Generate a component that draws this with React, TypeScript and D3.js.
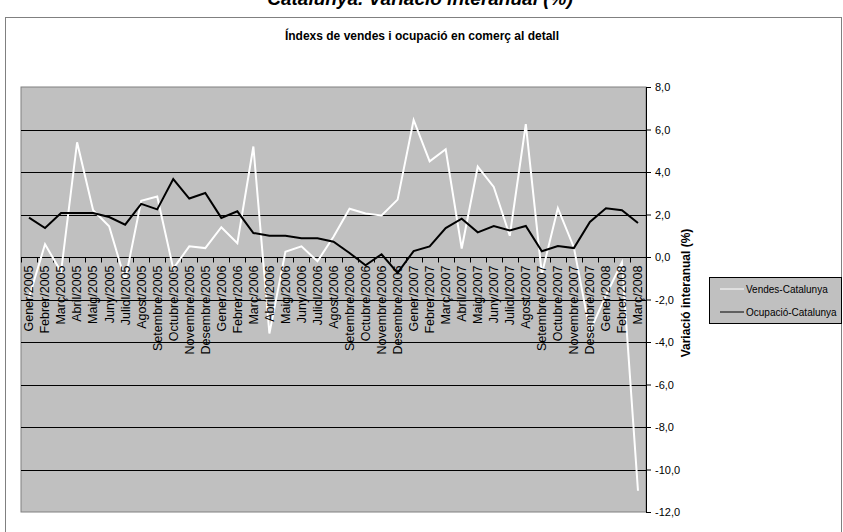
import React, { useEffect, useRef } from 'react'
import * as d3 from 'd3'

const categories = [
    'Gener/2005', 'Febrer/2005', 'Març/2005', 'Abril/2005', 'Maig/2005', 'Juny/2005',
    'Juliol/2005', 'Agost/2005', 'Setembre/2005', 'Octubre/2005', 'Novembre/2005', 'Desembre/2005',
    'Gener/2006', 'Febrer/2006', 'Març/2006', 'Abril/2006', 'Maig/2006', 'Juny/2006',
    'Juliol/2006', 'Agost/2006', 'Setembre/2006', 'Octubre/2006', 'Novembre/2006', 'Desembre/2006',
    'Gener/2007', 'Febrer/2007', 'Març/2007', 'Abril/2007', 'Maig/2007', 'Juny/2007',
    'Juliol/2007', 'Agost/2007', 'Setembre/2007', 'Octubre/2007', 'Novembre/2007', 'Desembre/2007',
    'Gener/2008', 'Febrer/2008', 'Març/2008'
]

const vendes = [
    -1.9, 0.6, -0.7, 5.4, 2.2, 1.45, -1.1, 2.65, 2.85, -0.55, 0.5, 0.42,
    1.4, 0.65, 5.2, -3.6, 0.25, 0.5, -0.2, 0.95, 2.27, 2.05, 1.95, 2.7,
    6.45, 4.5, 5.07, 0.4, 4.25, 3.3, 1.0, 6.25, -0.8, 2.3, 0.45, -3.5,
    -1.8, -0.25, -11.0
]

const ocupacio = [
    1.85, 1.36, 2.07, 2.07, 2.07, 1.88, 1.52, 2.5, 2.24, 3.67, 2.75, 3.01,
    1.84, 2.15, 1.13, 1.0, 1.0, 0.88, 0.88, 0.72, 0.19, -0.39, 0.13, -0.75,
    0.28, 0.5, 1.36, 1.8, 1.16, 1.46, 1.25, 1.46, 0.27, 0.52, 0.42, 1.65,
    2.29, 2.2, 1.6
]

const yTicks = [8, 6, 4, 2, 0, -2, -4, -6, -8, -10, -12]
const seriesNames = ['Vendes-Catalunya', 'Ocupació-Catalunya']

const font = "Arial, 'Liberation Sans', sans-serif"

export default function App() {
    const ref = useRef<SVGSVGElement | null>(null)

    const width = 843
    const height = 532
    const plot = { left: 21, right: 646, top: 87, bottom: 512 }

    function drawChart() {
        const svg = d3.select(ref.current)
        svg.selectAll('*').remove()

        // chart area
        svg.append('rect')
            .attr('x', 5.5).attr('y', 17.5)
            .attr('width', 836).attr('height', 540)
            .attr('fill', 'white').attr('stroke', '#808080')

        svg.append('text')
            .attr('x', 420).attr('y', 5)
            .attr('text-anchor', 'middle')
            .style('font-family', font)
            .style('font-size', '19px')
            .style('font-weight', 'bold')
            .style('font-style', 'italic')
            .text('Catalunya. Variació interanual (%)')

        svg.append('text')
            .attr('x', 422).attr('y', 40)
            .attr('text-anchor', 'middle')
            .style('font-family', font)
            .style('font-size', '12px')
            .style('font-weight', 'bold')
            .text('Índexs de vendes i ocupació en comerç al detall')

        const x = d3.scaleBand<string>()
            .domain(categories)
            .range([plot.left, plot.right])
        const y = d3.scaleLinear()
            .domain([-12, 8])
            .range([plot.bottom, plot.top])
        const cx = (d: string) => (x(d) as number) + x.bandwidth() / 2

        // plot area
        svg.append('rect')
            .attr('x', plot.left).attr('y', plot.top)
            .attr('width', plot.right - plot.left).attr('height', plot.bottom - plot.top)
            .attr('fill', '#C0C0C0').attr('stroke', '#808080')

        // gridlines
        svg.append('g')
            .selectAll('line')
            .data(yTicks.filter(t => t !== 8 && t !== -12))
            .enter().append('line')
            .attr('x1', plot.left).attr('x2', plot.right)
            .attr('y1', d => Math.round(y(d)) + 0.5).attr('y2', d => Math.round(y(d)) + 0.5)
            .attr('stroke', 'black')

        // y axis on the right
        const yAxis = d3.axisRight(y)
            .tickValues(yTicks)
            .tickSize(5)
            .tickFormat((d: any) => d.toFixed(1).replace('.', ','))
        const gy = svg.append('g')
            .attr('transform', 'translate(' + plot.right + ',0)')
            .call(yAxis)
        gy.select('.domain').attr('stroke', 'black')
        gy.selectAll('.tick line').attr('stroke', 'black')
        gy.selectAll('.tick text')
            .attr('x', 9)
            .style('font-family', font)
            .style('font-size', '11px')
            .attr('fill', 'black')

        svg.append('text')
            .attr('transform', 'translate(690,293) rotate(-90)')
            .attr('text-anchor', 'middle')
            .style('font-family', font)
            .style('font-size', '12px')
            .style('font-weight', 'bold')
            .text('Variació interanual (%)')

        // category axis at zero
        const y0 = Math.round(y(0)) + 0.5
        svg.append('line')
            .attr('x1', plot.left).attr('x2', plot.right)
            .attr('y1', y0).attr('y2', y0)
            .attr('stroke', 'black')
        svg.append('g')
            .selectAll('line')
            .data(categories)
            .enter().append('line')
            .attr('x1', d => Math.round(x(d) as number) + 0.5)
            .attr('x2', d => Math.round(x(d) as number) + 0.5)
            .attr('y1', y0).attr('y2', y0 + 5)
            .attr('stroke', 'black')

        // series lines
        const line = d3.line<number>()
            .x((d, i) => cx(categories[i]))
            .y(d => y(d))
        svg.append('path')
            .datum(vendes)
            .attr('d', line)
            .attr('fill', 'none')
            .attr('stroke', 'white')
            .attr('stroke-width', 2)
        svg.append('path')
            .datum(ocupacio)
            .attr('d', line)
            .attr('fill', 'none')
            .attr('stroke', 'black')
            .attr('stroke-width', 2)

        svg.append('g')
            .selectAll('text')
            .data(categories)
            .enter().append('text')
            .attr('transform', d => 'translate(' + cx(d) + ',' + (y0 + 8) + ') rotate(-90)')
            .attr('text-anchor', 'end')
            .attr('dy', '0.35em')
            .style('font-family', font)
            .style('font-size', '12.5px')
            .text(d => d)

        // legend
        const lg = svg.append('g').attr('transform', 'translate(709,277)')
        lg.append('rect')
            .attr('x', 0.5).attr('y', 0.5)
            .attr('width', 132).attr('height', 46)
            .attr('fill', '#C0C0C0').attr('stroke', 'black')
        const colors = ['white', 'black']
        seriesNames.forEach((name, i) => {
            const ly = 12 + i * 23
            lg.append('line')
                .attr('x1', 11).attr('x2', 35)
                .attr('y1', ly).attr('y2', ly)
                .attr('stroke', colors[i])
            lg.append('text')
                .attr('x', 37).attr('y', ly)
                .attr('dy', '0.35em')
                .style('font-family', font)
                .style('font-size', '10px')
                .text(name)
        })
    }

    useEffect(() => {
        drawChart()
    }, [])

    return (
        <div>
            <svg ref={ref} width={width} height={height}
                style={{ position: 'absolute', left: 0, top: 0, display: 'block' }} />
        </div>
    )
}
